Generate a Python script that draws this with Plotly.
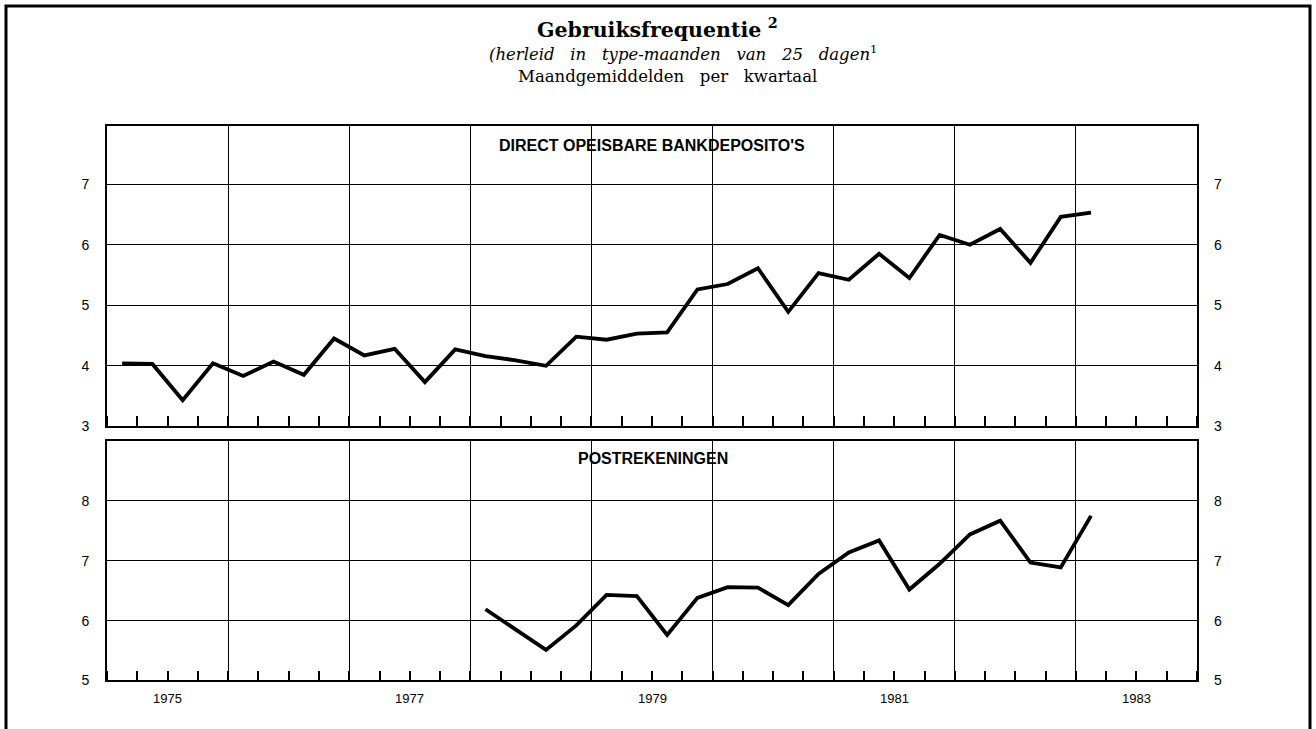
import plotly.graph_objects as go

# Quarterly averages of monthly usage frequency
top_start = (1975, 1)
top_values = [4.04, 4.03, 3.43, 4.04, 3.83, 4.07, 3.85, 4.45,
              4.17, 4.28, 3.73, 4.27, 4.16, 4.09, 4.00, 4.48,
              4.43, 4.53, 4.55, 5.26, 5.35, 5.61, 4.89, 5.53,
              5.42, 5.85, 5.45, 6.16, 6.00, 6.26, 5.70, 6.46,
              6.53]

bottom_start = (1978, 1)
bottom_values = [6.19, 5.85, 5.51, 5.92, 6.43, 6.41, 5.76, 6.38,
                 6.56, 6.55, 6.26, 6.78, 7.14, 7.34, 6.52, 6.95,
                 7.44, 7.67, 6.97, 6.89, 7.75]

year_labels = [1975, 1977, 1979, 1981, 1983]
top_ticks = [3, 4, 5, 6, 7]
bottom_ticks = [5, 6, 7, 8]

SP = "&nbsp;&nbsp;&nbsp;"
title = "<b>Gebruiksfrequentie</b> <b><sup>2</sup></b>"
subtitle = ("<i>(herleid" + SP + "in" + SP + "type-maanden" + SP + "van" + SP + "25"
            + SP + "dagen</i><sup>1</sup>")
subtitle2 = "Maandgemiddelden" + SP + "per" + SP + "kwartaal"
top_name = "DIRECT OPEISBARE BANKDEPOSITO'S"
bottom_name = "POSTREKENINGEN"

W, H = 1316, 729


def quarter_x(start, n):
    y0, q0 = start
    out = []
    for i in range(n):
        k = (q0 - 1) + i
        out.append(y0 + k // 4 + ((k % 4) + 0.5) / 4)
    return out


def px(x):
    return x / W


def py(y):
    return 1 - y / H


fig = go.Figure()
line_style = dict(color="black", width=3.8)

fig.add_trace(go.Scatter(x=quarter_x(top_start, len(top_values)), y=top_values,
                         mode="lines", line=line_style, xaxis="x", yaxis="y",
                         showlegend=False, hoverinfo="skip"))
fig.add_trace(go.Scatter(x=quarter_x(bottom_start, len(bottom_values)), y=bottom_values,
                         mode="lines", line=line_style, xaxis="x2", yaxis="y2",
                         showlegend=False, hoverinfo="skip"))
# invisible companions carrying the right-hand value scales
fig.add_trace(go.Scatter(x=quarter_x(top_start, len(top_values)), y=top_values,
                         mode="lines", line=dict(width=0), opacity=0,
                         xaxis="x", yaxis="y3", showlegend=False, hoverinfo="skip"))
fig.add_trace(go.Scatter(x=quarter_x(bottom_start, len(bottom_values)), y=bottom_values,
                         mode="lines", line=dict(width=0), opacity=0,
                         xaxis="x2", yaxis="y4", showlegend=False, hoverinfo="skip"))

xdom = [px(107), px(1197)]
top_dom = [py(431), py(127)]
bot_dom = [py(688), py(446)]
top_range = [3, 3 + (431 - 127) / 61.2]
bot_range = [5, 9]

tick_font = dict(family="Liberation Sans", size=14, color="black")

xaxis_common = dict(
    range=[1975, 1984], domain=xdom,
    tickmode="array", tickvals=list(range(1975, 1985)),
    showticklabels=False, ticks="",
    showgrid=True, gridcolor="black", gridwidth=1.3,
    showline=True, linecolor="black", linewidth=1.7, mirror=True,
    zeroline=False,
    minor=dict(tick0=1975, dtick=0.25, ticks="inside", ticklen=10,
               tickwidth=1.5, tickcolor="black", showgrid=False),
)

yaxis_common = dict(
    showgrid=True, gridcolor="black", gridwidth=1.3,
    showline=True, linecolor="black", linewidth=1.7, mirror=True,
    zeroline=False, ticks="", tickfont=tick_font, ticklabelstandoff=13,
)

fig.update_layout(
    width=W, height=H,
    margin=dict(l=0, r=0, t=0, b=0),
    paper_bgcolor="white", plot_bgcolor="white",
    xaxis=dict(**xaxis_common, anchor="y"),
    xaxis2=dict(**xaxis_common, anchor="y2"),
    yaxis=dict(**yaxis_common, domain=top_dom, range=top_range,
               tickvals=top_ticks, anchor="x"),
    yaxis2=dict(**yaxis_common, domain=bot_dom, range=bot_range,
                tickvals=bottom_ticks, anchor="x2"),
    yaxis3=dict(overlaying="y", side="right", range=top_range, tickvals=top_ticks,
                showgrid=False, zeroline=False, showline=False, ticks="",
                tickfont=tick_font, ticklabelstandoff=16, anchor="x"),
    yaxis4=dict(overlaying="y2", side="right", range=bot_range, tickvals=bottom_ticks,
                showgrid=False, zeroline=False, showline=False, ticks="",
                tickfont=tick_font, ticklabelstandoff=16, anchor="x2"),
)

annotations = [
    dict(text=title, x=px(657), y=py(29), font=dict(family="DejaVu Serif", size=20.5, color="black")),
    dict(text=subtitle, x=px(683), y=py(54), font=dict(family="DejaVu Serif", size=16.5, color="black")),
    dict(text=subtitle2, x=px(667), y=py(77), font=dict(family="DejaVu Serif", size=16.5, color="black")),
    dict(text="<b>" + top_name + "</b>", x=px(652), y=py(147),
         font=dict(family="Liberation Sans", size=16, color="black")),
    dict(text="<b>" + bottom_name + "</b>", x=px(653), y=py(464),
         font=dict(family="Liberation Sans", size=16, color="black")),
]
for a in annotations:
    a.update(xref="paper", yref="paper", showarrow=False, xanchor="center", yanchor="middle")

for yr in year_labels:
    annotations.append(dict(text=str(yr), x=yr + 0.5, xref="x2", y=py(706), yref="paper",
                            showarrow=False, xanchor="center", yanchor="middle",
                            font=dict(family="Liberation Sans", size=13, color="black")))

fig.update_layout(annotations=annotations)

# outer frame of the page
fig.add_shape(type="rect", xref="paper", yref="paper",
              x0=px(6), x1=px(1310), y0=-0.1, y1=py(6),
              line=dict(color="black", width=3), fillcolor="rgba(0,0,0,0)", layer="above")

fig.write_html("out.html")
